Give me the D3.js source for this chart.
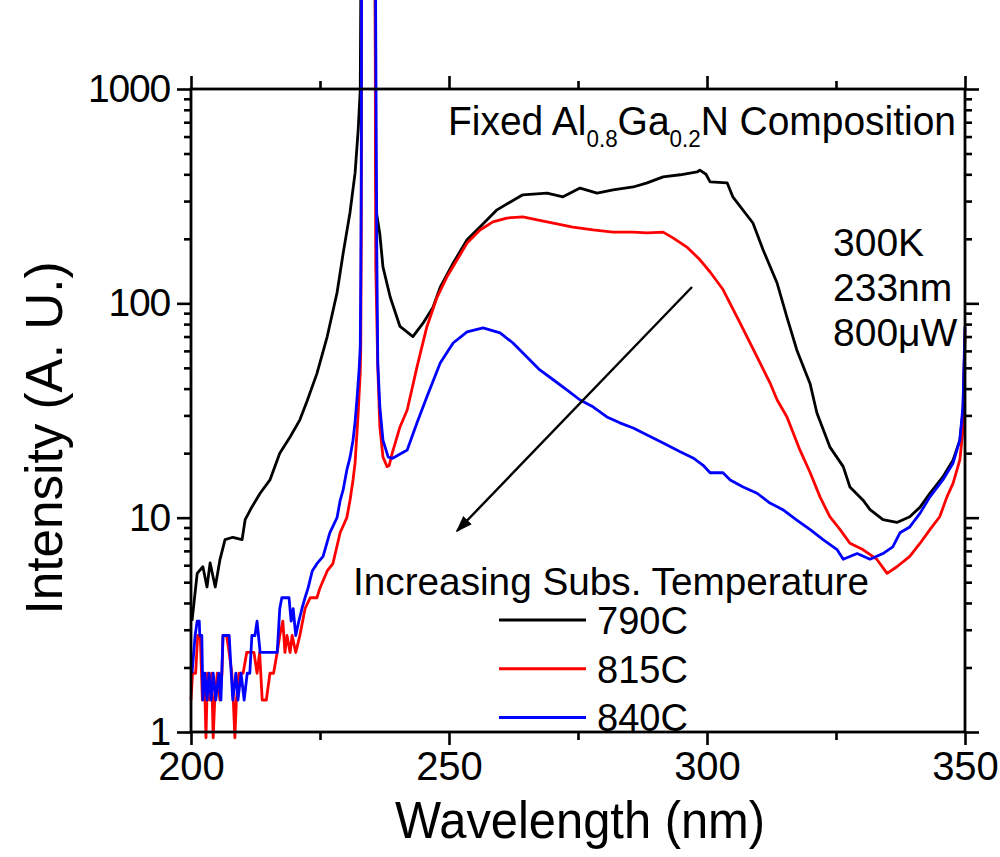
<!DOCTYPE html>
<html><head><meta charset="utf-8">
<script src="https://cdn.jsdelivr.net/npm/d3@7"></script>
<style>
html,body{margin:0;padding:0;background:#fff;}
svg{display:block;}
text{font-family:"Liberation Sans",Arial,sans-serif;fill:#000;}
</style></head>
<body>
<svg id="chart" width="1000" height="857"></svg>
<script>
// ---- data (wavelength nm, intensity a.u.) ----
const seriesNames = ["790C", "815C", "840C"];
const seriesColors = ["#000000", "#ff0000", "#0000ff"];
const xTickLabels = [200, 250, 300, 350];
const xMinorTicks = [225, 275, 325];
const yTickLabels = [1, 10, 100, 1000];
const yMinorTicks = [2,3,4,5,6,7,8,9,20,30,40,50,60,70,80,90,200,300,400,500,600,700,800,900];

const data790 = [
 [200.2,3.3],[201.2,5.5],[202.3,5.9],[203.1,4.75],[203.7,6.15],[204.7,4.75],[205.6,6.35],[206.6,7.9],
 [208.1,8.1],[209.9,7.9],[210.5,9.8],[211.6,11],[213.4,13],[215.3,15],[217.2,20],[219.2,23.8],
 [221.1,28.6],[222.5,35],[224.4,47],[226.4,70],[228.3,112],[229.5,172],[230.8,264],[231.8,406],
 [232.4,645],[232.8,990],[233.1,20000],[235.6,20000],[235.8,420],[236.0,260],[236.6,210],[237.2,148],
 [238.6,107],[240.5,78],[243.0,70],[245.0,81],[246.9,96],[248.3,119],[250.8,154],[253.5,198],
 [256.0,227],[259.3,273],[264.3,321],[269.0,327],[272.1,314],[275.4,345],[278.7,327],[281.8,338],
 [285.7,349],[288.4,365],[291.5,389],[294.8,398],[298.1,410],[298.6,418],[299.8,400],[300.6,369],
 [303.9,365],[305.0,314],[308.9,237],[310.9,177],[313.6,124],[315.5,86],[317.4,60.6],[320.0,42],
 [321.3,30.8],[323.8,21.4],[326.4,17.3],[327.7,13.9],[330.2,12.1],[331.6,10.9],[334.1,9.8],
 [336.8,9.5],[339.3,10.1],[341.3,11.2],[343.2,13],[345.7,15.5],[347.7,18.6],[349.0,23],[349.6,31],[350.0,70]
];
const data815 = [
 [200.0,1.41],[200.3,1.88],[200.9,1.88],[201.3,2.82],[201.8,2.82],[202.2,1.41],[202.6,1.88],[202.9,0.94],
 [203.2,1.88],[203.6,1.41],[204.0,1.88],[204.3,0.94],[204.6,1.41],[205.1,1.88],[205.6,1.41],[206.0,1.88],
 [206.2,2.82],[206.9,2.82],[207.4,2.35],[207.9,1.88],[208.2,1.41],[208.5,0.94],[208.8,1.41],[209.3,1.88],
 [210.1,1.88],[210.8,2.35],[212.2,2.35],[212.8,1.88],[213.3,2.35],[213.8,1.41],[214.6,1.41],[215.3,1.88],
 [216.0,1.88],[216.7,2.35],[217.2,2.82],[217.8,3.29],[218.2,2.35],[218.6,2.82],[219.2,2.35],[219.6,2.82],
 [220.3,2.35],[221.1,2.82],[222.1,3.76],[223.1,4.23],[224.4,4.23],[225.0,4.7],[226.4,5.64],[227.5,6.1],
 [228.9,8.5],[230.2,10],[230.8,12],[231.4,15],[231.8,18],[232.4,30.8],[232.8,48],[232.9,62],[233.0,200],
 [233.1,20000],[235.6,20000],[235.8,150],[236.2,50],[236.6,26.5],[237.2,19.2],[238.0,17.3],[238.4,17.5],
 [239.0,20],[240.5,26.5],[241.9,31.8],[243.8,50.5],[245.7,77.6],[247.7,107],[249.6,133],[251.6,160],
 [253.5,191],[256.0,220],[258.5,240],[261.2,250],[264.3,253],[267.1,245],[270.2,237],[274.0,227],
 [277.9,220],[281.8,215],[285.7,215],[288.4,213],[291.5,215],[293.4,202],[296.1,183],[298.6,160],
 [300.6,140],[303.1,116],[306.4,81],[309.7,56.2],[312.2,42.6],[313.6,35.4],[315.5,29.5],[318.0,20.7],
 [320.0,16.2],[321.9,12.5],[323.8,10.1],[325.8,8.8],[327.7,7.6],[330.2,7.1],[332.9,6.4],[334.9,5.5],
 [336.8,5.9],[339.3,6.6],[341.3,7.6],[343.2,8.8],[345.1,10.1],[346.5,12.5],[347.7,14.5],[349.0,18.6],
 [349.6,25.7],[350.0,75]
];
const data840 = [
 [200.2,1.88],[200.8,2.82],[201.2,3.29],[201.6,3.29],[201.7,2.82],[202.1,2.82],[202.3,1.41],[202.7,1.88],
 [203.1,1.41],[203.5,1.88],[203.9,1.41],[204.3,1.88],[204.8,1.41],[205.4,1.88],[205.8,1.41],[206.2,2.82],
 [207.4,2.82],[207.8,1.88],[208.1,1.41],[208.7,1.88],[209.1,1.41],[209.7,1.88],[210.3,1.41],[210.9,1.88],
 [211.4,1.88],[211.8,2.82],[212.4,2.82],[212.8,3.29],[213.4,2.35],[214.0,2.35],[216.7,2.35],[216.9,2.82],
 [217.2,3.76],[217.6,4.23],[219.0,4.23],[219.4,3.29],[219.8,3.76],[220.3,2.82],[220.9,3.29],[221.5,3.76],
 [222.1,4.23],[222.7,4.7],[223.5,5.64],[224.4,6.1],[225.6,6.6],[226.9,8.5],[228.3,10],[228.9,12],
 [229.5,13.5],[230.2,16.7],[230.8,19],[231.4,23],[231.8,28],[232.2,36.6],[232.6,50],[232.8,62.6],
 [232.9,129],[233.0,400],[233.1,20000],[235.6,20000],[235.9,600],[236.0,183],[236.2,52.7],[236.6,32.9],
 [237.2,23],[238.2,19.2],[239.0,18.9],[241.9,20.7],[243.8,27.7],[245.7,36.6],[248.3,52.7],[250.8,65.3],
 [253.5,73.6],[256.6,76.8],[259.9,72.8],[262.4,65.3],[265.1,56.2],[267.6,48.9],[270.2,44],[272.9,39.4],
 [275.4,35.4],[277.9,32.9],[280.6,29.5],[283.1,27.7],[285.7,26.2],[288.4,24.3],[291.5,22.3],[294.8,20.3],
 [297.3,19],[299.2,17.6],[300.6,16.2],[303.1,16.2],[304.5,15],[307.0,13.9],[309.7,13],[312.2,11.7],
 [314.7,10.9],[317.4,9.75],[320.0,8.8],[322.5,7.9],[325.2,7.1],[326.4,6.4],[329.1,6.8],[331.6,6.4],
 [334.1,6.8],[336.0,7.3],[337.4,8.5],[339.3,9.05],[341.3,10.5],[343.2,12.5],[345.7,15],[347.7,18],
 [349.0,23],[349.6,33],[350.0,78]
];
const allSeries = [data790, data815, data840];

// ---- layout ----
const svg = d3.select("#chart");
const x = d3.scaleLinear().domain([200, 350]).range([191, 965]);
const y = d3.scaleLog().domain([1, 1000]).range([732, 89]);
const [X0, X1] = x.range();
const [Y0, Y1] = y.range();

// curves (the laser line rises out of the top of the picture)
const line = d3.line().x(d => x(d[0])).y(d => y(d[1]));
allSeries.forEach((s, i) => {
  svg.append("path").datum(s).attr("d", line)
    .attr("fill", "none").attr("stroke", seriesColors[i])
    .attr("stroke-width", 2.8).attr("stroke-linejoin", "round");
});

// axes
function styleAxis(g, fs, ls) {
  g.select(".domain").remove();
  g.selectAll(".tick line").attr("stroke", "#000").attr("stroke-width", 2.6);
  g.selectAll(".tick text").attr("font-size", fs).attr("fill", "#000")
    .attr("font-family", '"Liberation Sans",Arial,sans-serif').style("letter-spacing", ls || "0px");
}
const fmt = d3.format("d");
svg.append("g").attr("transform", `translate(0,${Y0})`)
  .call(d3.axisBottom(x).tickValues(xTickLabels).tickSize(13).tickPadding(7).tickFormat(fmt))
  .call(g => styleAxis(g, 40));
svg.append("g").attr("transform", `translate(0,${Y0})`)
  .call(d3.axisBottom(x).tickValues(xMinorTicks).tickSize(8).tickFormat(""))
  .call(g => styleAxis(g, 40));
svg.append("g").attr("transform", `translate(0,${Y1})`)
  .call(d3.axisTop(x).tickValues(xTickLabels).tickSize(13).tickFormat(""))
  .call(g => styleAxis(g, 40));
svg.append("g").attr("transform", `translate(0,${Y1})`)
  .call(d3.axisTop(x).tickValues(xMinorTicks).tickSize(8).tickFormat(""))
  .call(g => styleAxis(g, 40));
svg.append("g").attr("transform", `translate(${X0},0)`)
  .call(d3.axisLeft(y).tickValues(yTickLabels).tickSize(14).tickPadding(7).tickFormat(fmt))
  .call(g => styleAxis(g, 39, "-1.2px"));
svg.append("g").attr("transform", `translate(${X0},0)`)
  .call(d3.axisLeft(y).tickValues(yMinorTicks).tickSize(7).tickFormat(""))
  .call(g => styleAxis(g, 40));
svg.append("g").attr("transform", `translate(${X1},0)`)
  .call(d3.axisRight(y).tickValues(yTickLabels).tickSize(14).tickFormat(""))
  .call(g => styleAxis(g, 40));
svg.append("g").attr("transform", `translate(${X1},0)`)
  .call(d3.axisRight(y).tickValues(yMinorTicks).tickSize(7).tickFormat(""))
  .call(g => styleAxis(g, 40));
svg.append("rect").attr("x", X0).attr("y", Y1).attr("width", X1 - X0).attr("height", Y0 - Y1)
  .attr("fill", "none").attr("stroke", "#000").attr("stroke-width", 2.8);

// axis titles
svg.append("text").attr("x", (X0 + X1) / 2 + 2).attr("y", 838).attr("text-anchor", "middle")
  .attr("font-size", 52).attr("textLength", 370).attr("lengthAdjust", "spacingAndGlyphs")
  .text("Wavelength (nm)");
svg.append("text").attr("transform", "translate(62,438) rotate(-90)").attr("text-anchor", "middle")
  .attr("font-size", 52).attr("textLength", 353).attr("lengthAdjust", "spacingAndGlyphs")
  .text("Intensity (A. U.)");

// annotation: composition
const t1 = svg.append("text").attr("x", 448).attr("y", 135).attr("font-size", 40)
  .attr("textLength", 508).attr("lengthAdjust", "spacingAndGlyphs");
t1.append("tspan").text("Fixed Al");
t1.append("tspan").attr("font-size", 23).attr("dy", 12).text("0.8");
t1.append("tspan").attr("dy", -12).text("Ga");
t1.append("tspan").attr("font-size", 23).attr("dy", 12).text("0.2");
t1.append("tspan").attr("dy", -12).text("N Composition");

// conditions
const condLines = ["300K", "233nm", "800\u03bcW"];
condLines.forEach((s, i) => {
  svg.append("text").attr("x", 833).attr("y", 256 + i * 45).attr("font-size", 39).text(s);
});

// arrow
svg.append("defs").append("marker").attr("id", "ah").attr("viewBox", "0 0 10 10")
  .attr("refX", 9).attr("refY", 5).attr("markerWidth", 7).attr("markerHeight", 7)
  .attr("markerUnits", "strokeWidth").attr("orient", "auto")
  .append("path").attr("d", "M0,1.5 L10,5 L0,8.5 Z").attr("fill", "#000");
svg.append("line").attr("x1", 692).attr("y1", 287).attr("x2", 457).attr("y2", 531)
  .attr("stroke", "#000").attr("stroke-width", 2.4).attr("marker-end", "url(#ah)");

svg.append("text").attr("x", 353).attr("y", 595).attr("font-size", 39)
  .attr("textLength", 516).attr("lengthAdjust", "spacingAndGlyphs")
  .text("Increasing Subs. Temperature");

// legend
seriesNames.forEach((n, i) => {
  const ly = 620 + i * 48.7;
  svg.append("line").attr("x1", 499).attr("x2", 586).attr("y1", ly).attr("y2", ly)
    .attr("stroke", seriesColors[i]).attr("stroke-width", 3);
  svg.append("text").attr("x", 597).attr("y", ly + 14).attr("font-size", 39)
    .attr("textLength", 91).attr("lengthAdjust", "spacingAndGlyphs").text(n);
});
</script>
</body></html>
